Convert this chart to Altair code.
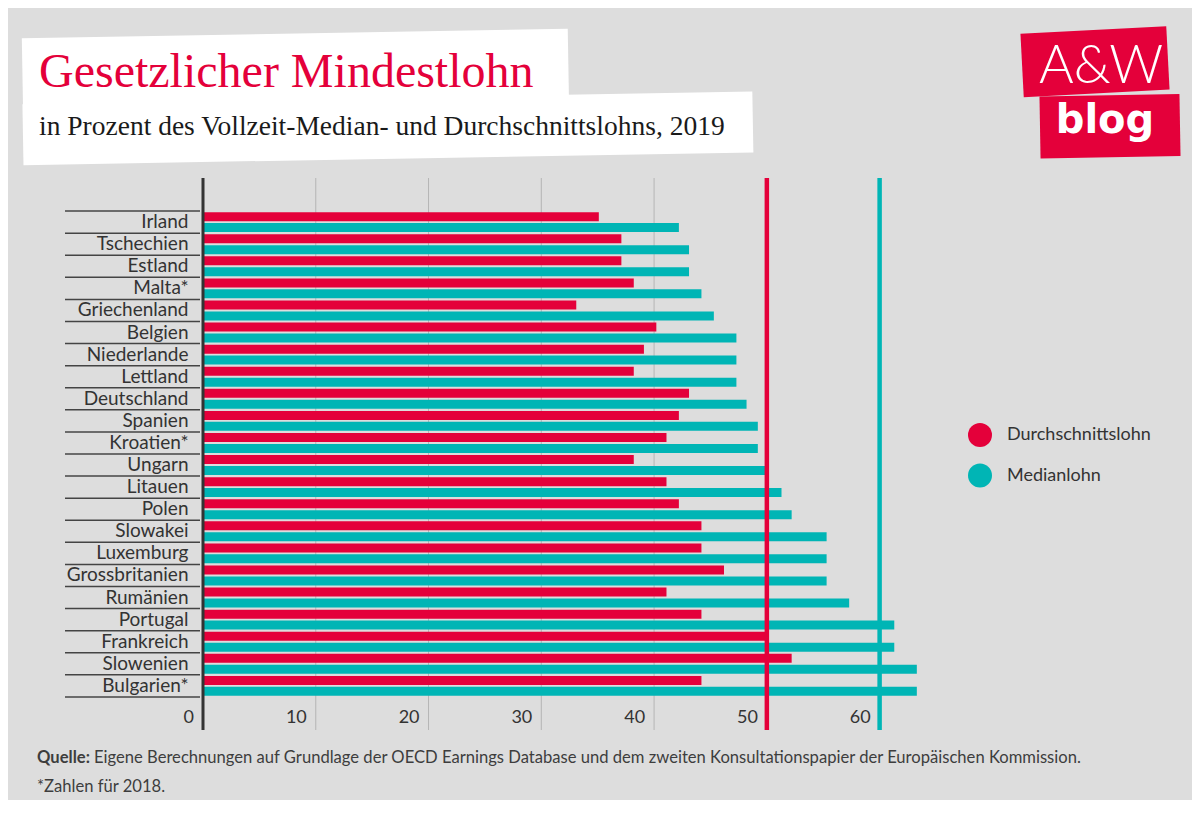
import altair as alt
import pandas as pd

# ---------------- data ----------------
countries = ["Irland", "Tschechien", "Estland", "Malta*", "Griechenland", "Belgien",
             "Niederlande", "Lettland", "Deutschland", "Spanien", "Kroatien*", "Ungarn",
             "Litauen", "Polen", "Slowakei", "Luxemburg", "Grossbritanien", "Rumänien",
             "Portugal", "Frankreich", "Slowenien", "Bulgarien*"]
durchschnitt = [35.1, 37.1, 37.1, 38.2, 33.1, 40.2, 39.1, 38.2, 43.1, 42.2, 41.1, 38.2,
                41.1, 42.2, 44.2, 44.2, 46.2, 41.1, 44.2, 49.9, 52.2, 44.2]
median = [42.2, 43.1, 43.1, 44.2, 45.3, 47.3, 47.3, 47.3, 48.2, 49.2, 49.2, 49.9,
          51.3, 52.2, 55.3, 55.3, 55.3, 57.3, 61.3, 61.3, 63.3, 63.3]
series = ["Durchschnittslohn", "Medianlohn"]
thresholds = [50, 60]
x_ticks = [0, 10, 20, 30, 40, 50, 60]

title_text = "Gesetzlicher Mindestlohn"
subtitle_text = "in Prozent des Vollzeit-Median- und Durchschnittslohns, 2019"
source_bold = "Quelle:"
source_text = ("Eigene Berechnungen auf Grundlage der OECD Earnings Database und dem zweiten "
               "Konsultationspapier der Europäischen Kommission.")
note_text = "*Zahlen für 2018."
logo_top = "A&W"
logo_bottom = "blog"

# ---------------- style ----------------
RED = "#e4003a"
TEAL = "#00b5b5"
BG = "#dddddd"
W, H = 733, 552

df = pd.DataFrame({
    "Land": countries * 2,
    "Reihe": [series[0]] * len(countries) + [series[1]] * len(countries),
    "Wert": durchschnitt + median,
})
one = pd.DataFrame({"k": [0]})

xscale = alt.Scale(domain=[0, 65], nice=False, zero=True)
yscale = alt.Scale(domain=countries, paddingInner=0, paddingOuter=0, range=[33.1, 518.9])
cscale = alt.Scale(domain=series, range=[RED, TEAL])


def box(cx, cy, w, h, color, angle):
    r = h / w
    path = f"M-1,{-r:.4f}L1,{-r:.4f}L1,{r:.4f}L-1,{r:.4f}Z"
    return alt.Chart(one).mark_point(
        shape=path, filled=True, fill=color, opacity=1, strokeWidth=0,
        size=w * w, angle=angle
    ).encode(x=alt.value(cx), y=alt.value(cy))


def txt(s, x, y, **kw):
    return alt.Chart(one).mark_text(text=s, **kw).encode(x=alt.value(x), y=alt.value(y))


# page (X, Y) -> plot coords (X-203, Y-178)
deco = [
    box(92.4, -108.5, 546, 72, "white", 359),
    box(184.9, -49.7, 730, 61, "white", 359),
    box(892, -116.3, 146, 63.5, RED, 357),
    box(907, -51.7, 140, 62, RED, 359),
    txt(title_text, -164, -91, font="Liberation Serif", fontSize=48, color=RED,
        align="left", baseline="alphabetic"),
    txt(subtitle_text, -164, -43, font="Liberation Serif", fontSize=27.5, color="#1a1a1a",
        align="left", baseline="alphabetic"),
    txt(logo_top, 898, -95, font="Lato", fontWeight=300, fontSize=53, color="white",
        align="center", baseline="alphabetic"),
    txt(logo_bottom, 902, -45, font="DejaVu Sans", fontWeight="bold", fontSize=40,
        color="white", align="center", baseline="alphabetic"),
    txt(source_bold, -166, 580, font="Lato", fontWeight="bold", fontSize=16.6,
        color="#3d3d3d", align="left", baseline="middle"),
    txt(source_text, -109, 580, font="Lato", fontSize=16.6, color="#3d3d3d",
        align="left", baseline="middle"),
    txt(note_text, -166, 609, font="Lato", fontSize=16.6, color="#3d3d3d",
        align="left", baseline="middle"),
]

grid = alt.Chart(pd.DataFrame({"v": x_ticks[1:]})).mark_rule(
    color="#b5b5b5", strokeWidth=1).encode(
    x=alt.X("v:Q", scale=xscale, title=None, axis=None))

bars = alt.Chart(df).mark_bar().encode(
    x=alt.X("Wert:Q", scale=xscale, title=None, axis=None),
    y=alt.Y("Land:N", scale=yscale, title=None,
            axis=alt.Axis(title=None, ticks=False, tickSize=0, domain=False,
                          labelFont="Lato", labelFontSize=19, labelColor="#333333",
                          labelPadding=15)),
    yOffset=alt.YOffset("Reihe:N", scale=alt.Scale(domain=series, paddingInner=0.18,
                                                    paddingOuter=0.1)),
    color=alt.Color("Reihe:N", scale=cscale, legend=alt.Legend(
        title=None, orient="none", legendX=765, legendY=245, symbolType="circle",
        symbolSize=576, symbolStrokeWidth=0, symbolOpacity=1, labelFont="Lato",
        labelFontSize=18, labelColor="#333333", labelOffset=15, rowPadding=16.5,
        padding=0)),
)

sep_all = alt.Chart(pd.DataFrame({"Land": countries})).mark_rule(
    color="#444444", strokeWidth=1.5).encode(
    y=alt.Y("Land:N", scale=yscale, bandPosition=0, title=None),
    x=alt.value(-138), x2=alt.value(-3))
sep_last = alt.Chart(pd.DataFrame({"Land": countries[-1:]})).mark_rule(
    color="#444444", strokeWidth=1.5).encode(
    y=alt.Y("Land:N", scale=yscale, bandPosition=1, title=None),
    x=alt.value(-138), x2=alt.value(-3))

axis_line = alt.Chart(pd.DataFrame({"v": x_ticks[:1]})).mark_rule(
    color="#333333", strokeWidth=3).encode(x=alt.X("v:Q", scale=xscale, title=None))

thr_red = alt.Chart(pd.DataFrame({"v": thresholds[:1]})).mark_rule(
    color=RED, strokeWidth=4.5).encode(x=alt.X("v:Q", scale=xscale, title=None))
thr_teal = alt.Chart(pd.DataFrame({"v": thresholds[1:]})).mark_rule(
    color=TEAL, strokeWidth=4.5).encode(x=alt.X("v:Q", scale=xscale, title=None))

tick_labels = alt.Chart(pd.DataFrame({"t": x_ticks})).mark_text(
    align="right", baseline="middle", dx=-9, font="Lato", fontSize=18,
    color="#333333").encode(
    x=alt.X("t:Q", scale=xscale, title=None), y=alt.value(540), text=alt.Text("t:Q"))

chart = alt.layer(
    *deco[:4], grid, bars, sep_all, sep_last, axis_line, thr_red, thr_teal, tick_labels,
    *deco[4:]
).properties(
    width=W, height=H,
    padding={"left": 195, "top": 170, "right": 256, "bottom": 70},
    autosize=alt.AutoSizeParams(type="none"),
).configure(background=BG).configure_view(stroke=None)

chart.save("out.html", embed_options={"renderer": "svg", "actions": False})
